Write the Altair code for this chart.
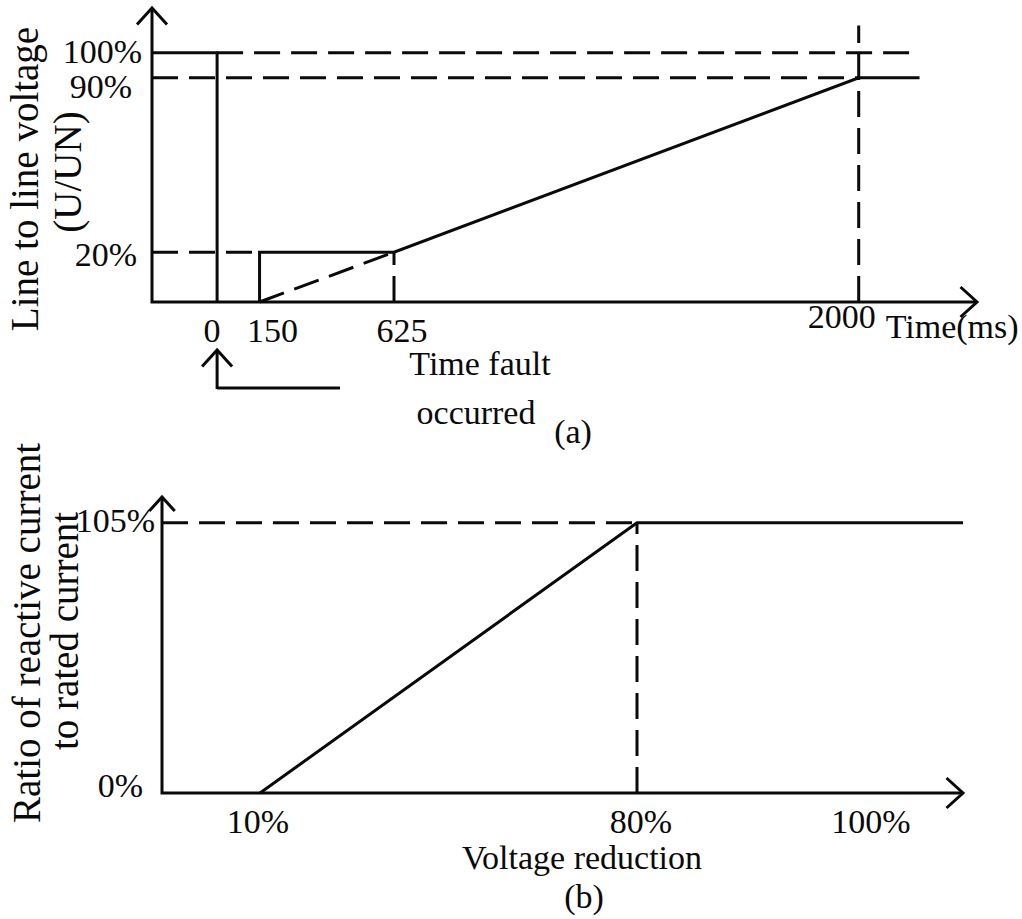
import altair as alt
import pandas as pd

FONT = "Liberation Serif"
INK = "#0a0a0a"
LW = 3
DASH = [26, 11]
TICK_SIZE = 34
TITLE_SIZE = 39
CHEVRON = "M -1 1.1 L 0 0 L 1 1.1"

# ---------------- (a) line-to-line voltage during a grid fault ----------------
time_start, time_end = -230, 2350          # extent of the time axis (ms)
volt_top = 118                             # top of the voltage axis (%)
time_ticks = [0, 150, 625, 2000]
time_tick_labels = ["0", "150", "625", "2000"]
volt_ticks = [100, 90, 20]
volt_tick_labels = ["100%", "90%", "20%"]

a_solid = [
    ("pre-fault", [time_start, 0, 0], [100, 100, 0]),
    ("boundary", [150, 150, 625, 2000, 2180], [0, 20, 20, 90, 90]),
]
a_dashed = [
    ("100% level", [0, 2165], [100, 100]),
    ("90% level", [time_start, 2000], [90, 90]),
    ("20% level", [time_start, 150], [20, 20]),
    ("ramp", [150, 625], [0, 20]),
    ("625 ms", [625, 625], [0, 20]),
    ("2000 ms", [2000, 2000], [0, 111]),
]
a_axes = [("axes", [time_start, time_start, time_end], [volt_top, 0, 0])]

# ---------------- (b) reactive current support ----------------
red_start, red_end = -8, 108               # extent of the voltage-reduction axis (%)
ratio_top = 115                            # top of the current-ratio axis (%)
reduction_ticks = [10, 80, 100]
reduction_tick_labels = ["10%", "80%", "100%"]
ratio_ticks = [105, 0]
ratio_tick_labels = ["105%", "0%"]

b_solid = [("reactive current", [10, 80, red_end], [0, 105, 105])]
b_dashed = [
    ("105% level", [red_start, 80], [105, 105]),
    ("80% reduction", [80, 80], [0, 105]),
]
b_axes = [("axes", [red_start, red_start, red_end], [ratio_top, 0, 0])]

# schematic (piecewise) scales of the two panels
xa = alt.Scale(domain=[time_start, 625, time_end], range=[152, 394, 977], nice=False, zero=False)
ya = alt.Scale(domain=[0, volt_top], range=[302, 8], nice=False, zero=False)
xb = alt.Scale(domain=[red_start, 10, 80, 100, red_end], range=[162, 260, 637, 871, 963],
               nice=False, zero=False)
yb = alt.Scale(domain=[0, ratio_top], range=[793, 497], nice=False, zero=False)


def segments(segs):
    rows = []
    for name, xs, ys in segs:
        for i, (x, y) in enumerate(zip(xs, ys)):
            rows.append({"seg": name, "i": i, "x": x, "y": y})
    return pd.DataFrame(rows)


def lines(segs, sx, sy, dashed=False):
    props = dict(color=INK, strokeWidth=LW, strokeCap="butt", strokeJoin="miter")
    if dashed:
        props["strokeDash"] = DASH
    return alt.Chart(segments(segs)).mark_line(**props).encode(
        x=alt.X("x:Q", scale=sx, axis=None),
        y=alt.Y("y:Q", scale=sy, axis=None),
        detail="seg:N",
        order="i:O",
    )


def arrowhead(x, y, sx, sy, angle, size=900):
    return alt.Chart(pd.DataFrame({"x": [x], "y": [y]})).mark_point(
        shape=CHEVRON, size=size, filled=False, stroke=INK, strokeWidth=LW,
        opacity=1, angle=angle, strokeJoin="miter",
    ).encode(
        x=alt.X("x:Q", scale=sx, axis=None),
        y=alt.Y("y:Q", scale=sy, axis=None),
    )


def label(x, y, text, sx, sy, dx=0, dy=0, align="center", baseline="alphabetic"):
    return alt.Chart(pd.DataFrame({"x": [x], "y": [y], "t": [text]})).mark_text(
        font=FONT, fontSize=TICK_SIZE, color=INK, align=align, baseline=baseline, dx=dx, dy=dy,
    ).encode(
        x=alt.X("x:Q", scale=sx, axis=None),
        y=alt.Y("y:Q", scale=sy, axis=None),
        text="t:N",
    )


def free_text(text, px, py, size=TICK_SIZE, angle=0, align="center"):
    return alt.Chart(pd.DataFrame({"t": [text]})).mark_text(
        font=FONT, fontSize=size, color=INK, align=align, baseline="alphabetic", angle=angle,
    ).encode(x=alt.value(px), y=alt.value(py), text="t:N")


# label nudges (dx, dy) in pixels
time_nudge = {"0": (-5, 40), "150": (13, 40), "625": (8, 40), "2000": (-17, 26)}
volt_nudge = {"100%": (-10, 0), "90%": (-20, 10), "20%": (-15, 4)}
reduction_nudge = {"10%": (-2, 40), "80%": (4, 40), "100%": (0, 40)}
ratio_nudge = {"105%": (-7, -1), "0%": (-19, -6)}

a_parts = [
    lines(a_axes, xa, ya),
    lines(a_dashed, xa, ya, dashed=True),
    lines(a_solid, xa, ya),
    arrowhead(time_start, volt_top, xa, ya, 0),
    arrowhead(time_end, 0, xa, ya, 90),
]
for t, s in zip(time_ticks, time_tick_labels):
    dx, dy = time_nudge[s]
    a_parts.append(label(t, 0, s, xa, ya, dx=dx, dy=dy))
for v, s in zip(volt_ticks, volt_tick_labels):
    dx, dy = volt_nudge[s]
    a_parts.append(label(time_start, v, s, xa, ya, dx=dx, dy=dy, align="right", baseline="middle"))
a_parts.append(label(2000, 0, "Time(ms)", xa, ya, dx=27, dy=36, align="left"))

# fault-instant callout below the time axis
fault_t = time_ticks[0]
a_parts += [
    alt.Chart(pd.DataFrame({"x": [fault_t]})).mark_rule(color=INK, strokeWidth=LW).encode(
        x=alt.X("x:Q", scale=xa, axis=None), y=alt.value(350), y2=alt.value(389)),
    alt.Chart(pd.DataFrame({"x": [fault_t]})).mark_rule(color=INK, strokeWidth=LW).encode(
        x=alt.X("x:Q", scale=xa, axis=None), x2=alt.value(340), y=alt.value(388)),
    alt.Chart(pd.DataFrame({"x": [fault_t]})).mark_point(
        shape=CHEVRON, size=900, filled=False, stroke=INK, strokeWidth=LW, opacity=1,
        strokeJoin="miter").encode(x=alt.X("x:Q", scale=xa, axis=None), y=alt.value(350)),
    free_text("Time fault", 480, 375),
    free_text("occurred", 476, 424),
    free_text("(a)", 573, 443),
    free_text("Line to line voltage", 38, 179, size=TITLE_SIZE, angle=270),
    free_text("(U/UN)", 81, 172, size=TITLE_SIZE, angle=270),
]

b_parts = [
    lines(b_axes, xb, yb),
    lines(b_dashed, xb, yb, dashed=True),
    lines(b_solid, xb, yb),
    arrowhead(red_start, ratio_top, xb, yb, 0, size=650),
    arrowhead(red_end, 0, xb, yb, 90),
]
for r, s in zip(reduction_ticks, reduction_tick_labels):
    dx, dy = reduction_nudge[s]
    b_parts.append(label(r, 0, s, xb, yb, dx=dx, dy=dy))
for r, s in zip(ratio_ticks, ratio_tick_labels):
    dx, dy = ratio_nudge[s]
    b_parts.append(label(red_start, r, s, xb, yb, dx=dx, dy=dy, align="right", baseline="middle"))
b_parts += [
    free_text("Voltage reduction", 582, 869),
    free_text("(b)", 584, 908),
    free_text("Ratio of reactive current", 40, 633, size=TITLE_SIZE, angle=270),
    free_text("to rated current", 78, 631, size=TITLE_SIZE, angle=270),
]

panel_a = alt.layer(*a_parts)
panel_b = alt.layer(*b_parts)

chart = (
    alt.layer(panel_a, panel_b)
    .resolve_scale(x="independent", y="independent")
    .properties(width=1022, height=919, autosize=alt.AutoSizeParams(type="none"),
                padding=0, background="white")
    .configure_view(stroke=None)
)

chart.save("out.html", embed_options={"renderer": "svg", "actions": False})
